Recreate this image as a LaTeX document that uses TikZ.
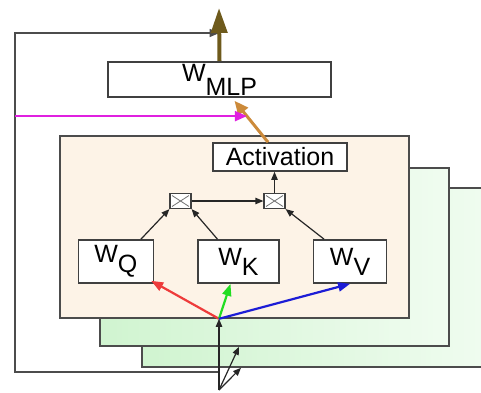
\documentclass[tikz,border=0pt]{standalone}
\usepackage{fontspec}
\setmainfont{Liberation Sans}
\usetikzlibrary{arrows.meta, positioning, calc}

\definecolor{panelbg}{HTML}{FDF3E7}
\definecolor{layerbg}{HTML}{D0F4D0}
\definecolor{layerfade}{HTML}{F0FCF0}
\definecolor{qred}{HTML}{EE3B3B}
\definecolor{kgreen}{HTML}{22DD22}
\definecolor{vblue}{HTML}{1C1CD6}
\definecolor{mixpink}{HTML}{E020E0}
\definecolor{outbrown}{HTML}{6E5A1C}
\definecolor{actorange}{HTML}{CC8A3A}

\begin{document}
\begin{tikzpicture}[x=0.5pt, y=-0.5pt,
  every node/.style={font=\fontsize{12.5}{14}\selectfont},
  panel/.style={draw=black!70, line width=0.8pt, inner sep=0pt, minimum width=174.5pt},
  weight/.style={draw=black!75, fill=white, line width=0.8pt, inner sep=0pt, minimum height=21.5pt},
  mult/.style={draw=black!75, fill=white, line width=0.6pt, inner sep=0pt,
    minimum width=10.5pt, minimum height=7.5pt,
    path picture={\draw[black!55, line width=0.4pt]
      ([shift={(1pt,-1pt)}]path picture bounding box.north west) -- ([shift={(-1pt,1pt)}]path picture bounding box.south east)
      ([shift={(-1pt,-1pt)}]path picture bounding box.north east) -- ([shift={(1pt,1pt)}]path picture bounding box.south west);}},
  link/.style={-{Triangle[length=4pt,width=3.2pt]}, line width=0.6pt, black!85},
  proj/.style={-{Triangle[length=6pt,width=4.5pt]}, line width=1.1pt},
  ]
\clip (0,0) rectangle (481,392);

% stacked attention layers, back to front
\node[panel, left color=layerbg, right color=layerfade, minimum height=89.5pt] (layer3) at (316.5,277.5) {};
\node[panel, left color=layerbg, right color=layerfade, minimum height=89pt] (layer2) at (274.5,257) {};
\node[panel, fill=panelbg, minimum height=91pt] (front) at (234.5,227) {};

\node[weight, minimum width=40.5pt] (wk) at (238.5,261.5) {W\raisebox{-5pt}{K}};
\node[weight, minimum width=37.5pt, left=21.5pt of wk] (wq) {W\raisebox{-5pt}{Q}};
\node[weight, minimum width=36.5pt, right=16.5pt of wk] (wv) {W\raisebox{-5pt}{V}};

\node[mult] (qk) at (180.5,201) {};
\node[mult] (qkv) at (274.5,201) {};

\node[weight, minimum width=67pt, minimum height=14pt] (act) at (280,157) {Activation};
\node[weight, minimum width=111.5pt, minimum height=17.5pt] (mlp) at (219.5,79.5) {W\raisebox{-7pt}{MLP}};

\coordinate (in) at (219,390);
\coordinate (fork) at (in |- front.south);
\coordinate (tap2) at ($(in |- layer2.south)+(20,0)$);
\coordinate (tap3) at ($(in |- layer3.south)+(22,0)$);
\coordinate (skip) at (219,372);
\coordinate (corner) at (15,33);
\coordinate (out) at (219,8);
\coordinate (o1) at ($(act.north)+(-12,0)$);
\coordinate (o2) at ($(mlp.south)+(15,3)$);
\coordinate (join) at ($(o1)!0.63!(o2)$);

% input and residual path
\draw[line width=0.8pt, black!70, -{Triangle[length=5pt,width=4pt]}] (skip) -| (corner) -- (mlp.north |- corner);
\draw[link] (in) -- (fork);
\draw[link] (in) -- (tap2);
\draw[link] (in) -- (tap3);

% q, k, v projections
\draw[proj, qred] (fork) -- ($(wq.south east)+(-3,-3)$);
\draw[proj, kgreen] (fork) -- ($(wk.south)+(-8,0)$);
\draw[proj, vblue] (fork) -- (wv.south);

\draw[link] ($(wq.north)+(25,0)$) -- (qk.south west);
\draw[link] ($(wk.north)+(-21,0)$) -- (qk.south east);
\draw[link] (qk) -- (qkv);
\draw[link] ($(wv.north)+(-26,0)$) -- (qkv.south east);
\draw[link] (qkv) -- (qkv |- act.south);

\draw[actorange, line width=1.5pt, -{Triangle[length=7pt,width=6pt]}] (o1) -- (o2);
\draw[mixpink, line width=1pt, -{Triangle[length=6pt,width=5pt]}] (corner |- join) -- (join);
\draw[outbrown, line width=2pt, -{Triangle[length=12.5pt,width=8pt]}] (mlp.north) -- (out);
\end{tikzpicture}
\end{document}
